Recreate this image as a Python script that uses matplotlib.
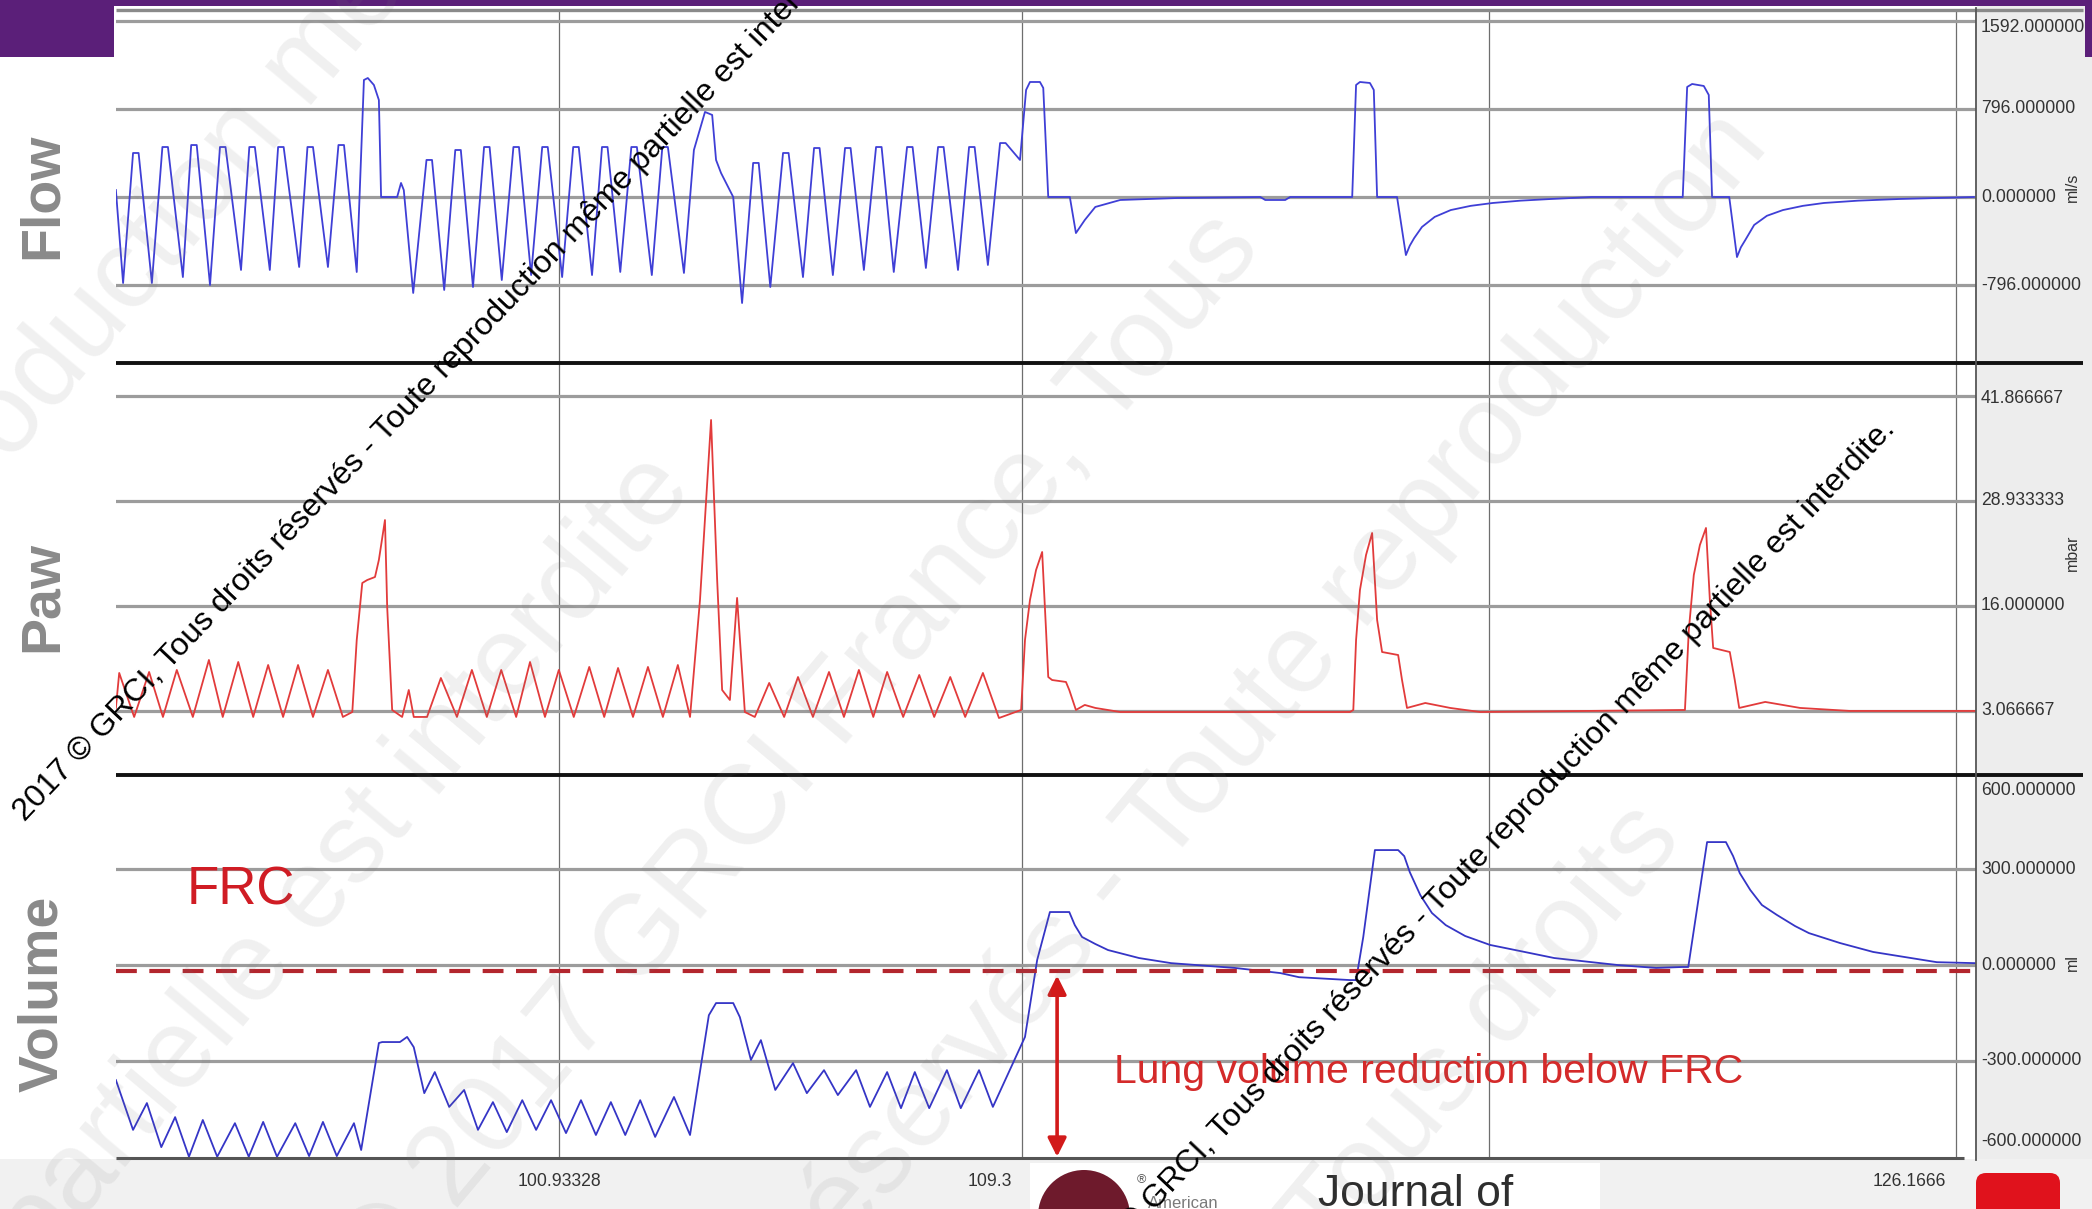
import matplotlib.pyplot as plt
import matplotlib.transforms as mtransforms
from matplotlib.patches import Rectangle, Wedge, FancyBboxPatch
from matplotlib.lines import Line2D

plt.rcParams['font.family'] = ['Liberation Sans', 'DejaVu Sans']

# ---- Data (time in s) ----
flow_t = [92.93, 93.06, 93.24, 93.34, 93.58, 93.77, 93.87, 94.14, 94.29, 94.39,
          94.63, 94.81, 94.91, 95.19, 95.34, 95.44, 95.71, 95.86, 95.96, 96.24,
          96.39, 96.49, 96.76, 96.95, 97.05, 97.28,
          97.41, 97.48, 97.59, 97.68, 97.72, 98.01, 98.08, 98.13,
          98.30, 98.54, 98.64, 98.86, 99.06, 99.16, 99.38, 99.58, 99.68, 99.90,
          100.11, 100.21, 100.43, 100.63, 100.73, 100.99, 101.19, 101.29, 101.53, 101.71,
          101.81, 102.04, 102.24, 102.34, 102.61, 102.80, 102.90, 103.19,
          103.37, 103.57, 103.70, 103.77, 103.86, 104.08,
          104.24, 104.44, 104.54, 104.75, 104.98, 105.08, 105.34, 105.54, 105.64, 105.88,
          106.10, 106.20, 106.44, 106.66, 106.76, 106.98, 107.22, 107.32, 107.56, 107.78,
          107.88, 108.14, 108.34, 108.44, 108.68, 108.90, 109.00,
          109.26, 109.37, 109.44, 109.62, 109.68, 109.77, 110.16, 110.27, 110.43, 110.62,
          111.07, 112.10, 113.60, 113.69, 114.05, 114.14,
          115.26, 115.33, 115.40, 115.58, 115.65, 115.71, 116.07, 116.23, 116.30, 116.38,
          116.52, 116.75, 117.04, 117.40, 117.80, 118.30, 118.85, 119.59,
          121.23, 121.31, 121.40, 121.61, 121.70, 121.76, 122.07, 122.21, 122.28, 122.36,
          122.52, 122.75, 123.04, 123.40, 123.78, 124.40, 125.14, 126.49]
flow_v = [63, -778, 398, 398, -778, 452, 452, -724, 470, 470,
          -796, 452, 452, -660, 452, 452, -660, 452, 452, -633,
          452, 452, -633, 470, 470, -678,
          1058, 1076, 1013, 877, 0, 0, 127, 63,
          -868, 335, 335, -841, 425, 425, -814, 452, 452, -751,
          452, 452, -706, 452, 452, -724, 452, 452, -706, 452,
          452, -678, 452, 452, -706, 452, 452, -687,
          425, 769, 742, 335, 217, 0,
          -959, 308, 308, -814, 398, 398, -724, 443, 443, -706,
          443, 443, -660, 452, 452, -678, 452, 452, -642, 452,
          452, -660, 452, 452, -615, 488, 488,
          335, 968, 1040, 1040, 986, 0, 0, -326, -208, -90,
          -27, -9, 0, -27, -27, 0,
          0, 1013, 1040, 1031, 968, 0, 0, -525, -440, -371,
          -271, -180, -118, -80, -54, -33, -18, 0,
          0, 995, 1022, 1004, 923, 0, 0, -543, -455, -389,
          -253, -170, -118, -80, -54, -33, -18, 0]

paw_t = [92.93, 92.99, 93.26, 93.53, 93.78, 94.03, 94.32, 94.61, 94.86, 95.14,
         95.41, 95.68, 95.95, 96.22, 96.49, 96.76, 97.03, 97.20, 97.28, 97.38,
         97.47, 97.61, 97.68, 97.79, 97.83, 97.92, 98.10, 98.22, 98.31, 98.55,
         98.80, 99.09, 99.36, 99.63, 99.89, 100.16, 100.41, 100.68, 100.93, 101.20,
         101.48, 101.75, 102.00, 102.27, 102.54, 102.81, 103.08, 103.30, 103.48, 103.68,
         103.79, 103.88, 104.02, 104.15, 104.29, 104.47, 104.73, 105.00, 105.25, 105.52,
         105.81, 106.08, 106.35, 106.61, 106.86, 107.15, 107.44, 107.71, 108.00, 108.27,
         108.59, 108.88, 109.28, 109.35, 109.44, 109.55, 109.66, 109.73, 109.77, 109.84,
         110.09, 110.15, 110.27, 110.43, 110.62, 111.07, 115.22, 115.28, 115.33, 115.40,
         115.51, 115.62, 115.71, 115.80, 116.09, 116.16, 116.25, 116.58, 117.03, 117.57,
         121.27, 121.34, 121.43, 121.54, 121.65, 121.72, 121.78, 122.08, 122.17, 122.25,
         122.72, 123.35, 124.25, 126.53]
paw_v = [3.44, 7.75, 2.33, 7.87, 2.33, 8.12, 2.33, 9.35, 2.33, 9.10,
         2.33, 8.73, 2.33, 8.73, 2.33, 8.12, 2.33, 2.94, 11.81, 18.83,
         19.20, 19.57, 21.67, 26.59, 15.88, 3.19, 2.33, 5.65, 2.33, 2.33,
         7.13, 2.33, 8.12, 2.33, 8.12, 2.33, 9.10, 2.33, 8.12, 2.33,
         8.49, 2.33, 8.36, 2.33, 8.49, 2.33, 8.73, 2.33, 16.74, 38.91,
         19.20, 5.65, 4.42, 16.99, 2.94, 2.33, 6.52, 2.33, 7.25, 2.33,
         7.87, 2.33, 8.12, 2.33, 7.87, 2.33, 7.50, 2.33, 7.25, 2.33,
         7.75, 2.20, 3.19, 11.81, 16.74, 20.43, 22.65, 13.04, 7.25, 6.88,
         6.64, 5.65, 3.19, 3.81, 3.44, 2.94, 2.94, 3.19, 11.81, 17.97,
         22.28, 24.99, 14.28, 10.33, 9.96, 6.88, 3.44, 4.05, 3.44, 2.94,
         3.19, 13.04, 19.82, 23.51, 25.61, 16.74, 10.83, 10.33, 6.88, 3.44,
         4.18, 3.44, 3.07, 3.07]

vol_t = [92.93, 93.24, 93.49, 93.75, 94.00, 94.25, 94.50, 94.76, 95.08, 95.33,
         95.59, 95.84, 96.17, 96.42, 96.67, 96.92, 97.23, 97.36, 97.68, 97.74,
         98.06, 98.19, 98.31, 98.50, 98.69, 98.95, 99.22, 99.47, 99.74, 99.99,
         100.27, 100.52, 100.79, 101.06, 101.33, 101.60, 101.87, 102.13, 102.40, 102.67,
         103.01, 103.30, 103.64, 103.77, 104.08, 104.20, 104.40, 104.58, 104.84, 105.16,
         105.41, 105.72, 105.97, 106.30, 106.55, 106.86, 107.11, 107.36, 107.62, 107.94,
         108.19, 108.52, 108.77, 109.35, 109.57, 109.80, 110.15, 110.25, 110.38, 110.62,
         110.85, 111.41, 111.99, 113.14, 113.96, 114.30, 115.22, 115.33, 115.46, 115.67,
         116.09, 116.20, 116.30, 116.49, 116.70, 116.95, 117.30, 117.75, 118.29, 118.91,
         120.06, 120.75, 121.22, 121.33, 121.67, 122.01, 122.14, 122.26, 122.45, 122.66,
         122.93, 123.26, 123.51, 124.07, 124.67, 125.82, 126.51]
vol_v = [-360, -516, -432, -570, -476, -600, -485, -600, -495, -600,
         -491, -600, -495, -598, -491, -598, -495, -579, -244, -241,
         -241, -225, -257, -401, -335, -444, -391, -516, -429, -523,
         -423, -516, -423, -526, -423, -532, -429, -532, -423, -538,
         -413, -532, -157, -119, -119, -163, -297, -235, -391, -307,
         -401, -329, -407, -329, -444, -335, -448, -335, -448, -329,
         -448, -329, -444, -225, 16, 166, 166, 125, 88, 66,
         47, 22, 6, -9, -25, -38, -47, -47, 88, 360,
         360, 341, 291, 219, 163, 125, 91, 63, 44, 22,
         0, -9, -6, -6, 385, 385, 341, 288, 235, 188,
         157, 122, 100, 69, 41, 9, 6]

assert len(flow_t) == len(flow_v) and len(paw_t) == len(paw_v) and len(vol_t) == len(vol_v)

flow_ticks = [1592, 796, 0, -796]
flow_labels = ['1592.000000', '796.000000', '0.000000', '-796.000000']
flow_label_pos = [1529, 796, 0, -796]
paw_ticks = [41.866667, 28.933333, 16.0, 3.066667]
paw_labels = ['41.866667', '28.933333', '16.000000', '3.066667']
paw_label_pos = [41.6, 28.933333, 16.0, 3.066667]
vol_ticks = [600, 300, 0, -300, -600]
vol_labels = ['600.000000', '300.000000', '0.000000', '-300.000000', '-600.000000']
vol_label_pos = [545, 300, 0, -300, -551]
time_grid = [100.93328, 109.3, 117.7333, 126.1666]
frc_level = -19
arrow_t = 109.93
t_start, t_end = 92.932, 126.527

W, H = 2092, 1209
fig = plt.figure(figsize=(W / 100, H / 100), dpi=100)
fig.patch.set_facecolor('white')
inch = fig.dpi_scale_trans


def P(x, y):
    # pixel (from top-left) -> inches for dpi_scale_trans
    return x / 100, (H - y) / 100


def rect(x0, y0, x1, y1, color, z=-5):
    fig.add_artist(Rectangle(P(x0, y1), (x1 - x0) / 100, (y1 - y0) / 100,
                             transform=inch, facecolor=color, edgecolor='none', zorder=z))


def hline(x0, x1, y, color, lw, z=2):
    fig.add_artist(Line2D([x0 / 100, x1 / 100], [(H - y) / 100] * 2, transform=inch,
                          color=color, lw=lw, zorder=z, solid_capstyle='butt'))


# backgrounds
rect(1977, 0, W, 1209, '#ededed')
rect(0, 1159, W, 1209, '#f1f1f1')
rect(0, 0, W, 6, '#5b1f79', z=5)
rect(0, 0, 114, 57, '#5b1f79', z=5)
rect(2085, 0, W, 57, '#5b1f79', z=5)

left, right = 116, 1976
panels = [(9, 363), (363, 775), (775, 1158)]
axes = []
for top, bot in panels:
    ax = fig.add_axes([left / W, 1 - bot / H, (right - left) / W, (bot - top) / H])
    ax.set_facecolor('white')
    ax.set_xlim(t_start, t_end)
    ax.set_xticks([])
    ax.set_yticks([])
    for s in ax.spines.values():
        s.set_visible(False)
    for tg in time_grid:
        ax.axvline(tg, color='#6e6e6e', lw=0.9, zorder=1)
    axes.append(ax)
ax_flow, ax_paw, ax_vol = axes
ax_flow.set_ylim(-1501, 1700)
ax_paw.set_ylim(-4.82, 45.93)
ax_vol.set_ylim(-604, 595)

for ax, ticks in [(ax_flow, flow_ticks), (ax_paw, paw_ticks), (ax_vol, vol_ticks[1:-1])]:
    for v in ticks:
        ax.axhline(v, color='#9c9c9c', lw=2.3, zorder=1)

# traces
ax_flow.plot(flow_t, flow_v, color='#3f3fd6', lw=1.3, zorder=3)
ax_paw.plot(paw_t, paw_v, color='#e23b3b', lw=1.3, zorder=3)
ax_vol.plot(vol_t, vol_v, color='#3535c6', lw=1.3, zorder=3)

# FRC line, arrow and annotations
ax_vol.axhline(frc_level, color='#b3262e', lw=3.0, dashes=(5, 3), zorder=4)
ax_vol.annotate('', xy=(arrow_t, frc_level - 14), xytext=(arrow_t, -600),
                arrowprops=dict(arrowstyle='<|-|>', color='#d21a1a', lw=2.6,
                                mutation_scale=28, shrinkA=0, shrinkB=0), zorder=5)
ax_vol.text(94.21, 191, 'FRC', color='#d01c24', fontsize=38, ha='left', va='baseline', zorder=5)
ax_vol.text(110.96, -369, 'Lung volume reduction below FRC', color='#d42a2a',
            fontsize=29.5, ha='left', va='baseline', zorder=5)

# panel separators and frame
hline(116, 2083, 10, '#8a8a8a', 2.4)
hline(116, 2083, 363, '#111111', 2.8, z=6)
hline(116, 2083, 775, '#111111', 2.8, z=6)
hline(116, 1964, 1158, '#555555', 2.2, z=6)
fig.add_artist(Line2D([right / 100] * 2, [(H - 8) / 100, (H - 1160) / 100], transform=inch,
                      color='#555555', lw=1.3, zorder=6))

# right-hand value labels
tick_kw = dict(fontsize=12.7, color='#333333', ha='left', va='center', zorder=6, clip_on=False)
for ax, pos, labels in [(ax_flow, flow_label_pos, flow_labels), (ax_paw, paw_label_pos, paw_labels),
                        (ax_vol, vol_label_pos, vol_labels)]:
    tr = ax.get_yaxis_transform()
    for v, lab in zip(pos, labels):
        ax.text(1.0 + 5 / 1860, v, lab, transform=tr, **tick_kw)

for unit, yc in [('ml/s', 187), ('mbar', 553), ('ml', 963)]:
    fig.text(2072 / W, 1 - yc / H, unit, rotation=90, fontsize=11.5, color='#333333',
             ha='center', va='center')

# time labels
tt = mtransforms.blended_transform_factory(ax_vol.transData, inch)
tr_shift = mtransforms.offset_copy(tt, fig=fig, x=-0.1, units='inches')
ax_vol.text(time_grid[0], (H - 1181) / 100, '100.93328', transform=tt, ha='center',
            va='center', fontsize=12.7, color='#333333', clip_on=False)
ax_vol.text(time_grid[1], (H - 1181) / 100, '109.3', transform=tr_shift, ha='right',
            va='center', fontsize=12.7, color='#333333', clip_on=False)
ax_vol.text(time_grid[3], (H - 1181) / 100, '126.1666', transform=tr_shift, ha='right',
            va='center', fontsize=12.7, color='#333333', clip_on=False)

# channel names
for name, yc in [('Flow', 196), ('Paw', 597), ('Volume', 994)]:
    fig.text(43 / W, 1 - yc / H, name, rotation=90, fontsize=40, fontweight='bold',
             color='#8a8a8a', ha='center', va='center')

# journal logo strip
rect(1030, 1163, 1600, 1209, 'white', z=-4)
fig.add_artist(Wedge(P(1084, 1216), 0.46, 0, 180, transform=inch, facecolor='#6e1a2c',
                     edgecolor='none', zorder=6))
fig.text(1137 / W, 1 - 1180 / H, '®', fontsize=9, color='#555555', ha='left', va='center')
fig.text(1148 / W, 1 - 1204 / H, 'American', fontsize=12, color='#7a7a7a', ha='left', va='center')
fig.text(1318 / W, 1 - 1174 / H, 'Journal of', fontsize=32, color='#2e2e2e', ha='left', va='top')
fig.add_artist(FancyBboxPatch(P(1976, 1225), 0.84, 0.52, boxstyle='round,pad=0,rounding_size=0.1',
                              transform=inch, facecolor='#e0121c', edgecolor='none', zorder=6))

# watermarks
wm = '2017 © GRCI, Tous droits réservés - Toute reproduction même partielle est interdite.'
fig.text(25 / W, 1 - 822 / H, wm, rotation=46.5, rotation_mode='anchor', ha='left',
         va='baseline', fontsize=23, color='black', zorder=20)
fig.text(1896 / W, 1 - 430 / H, wm, rotation=46.5, rotation_mode='anchor', ha='right',
         va='baseline', fontsize=23, color='black', zorder=20)

big_wm = [('reproduction même', -120, 620), ('partielle est interdite', 40, 1270),
          ('© 2017 GRCI France, Tous', 380, 1300), ('réservés - Toute reproduction', 820, 1280),
          ('Tous droits', 1330, 1260)]
for txt, x, y in big_wm:
    fig.text(x / W, 1 - y / H, txt, rotation=50, rotation_mode='anchor', ha='left',
             va='baseline', fontsize=82, color='#7a7a7a', alpha=0.11, zorder=19)

fig.savefig('out.png', dpi=100)
